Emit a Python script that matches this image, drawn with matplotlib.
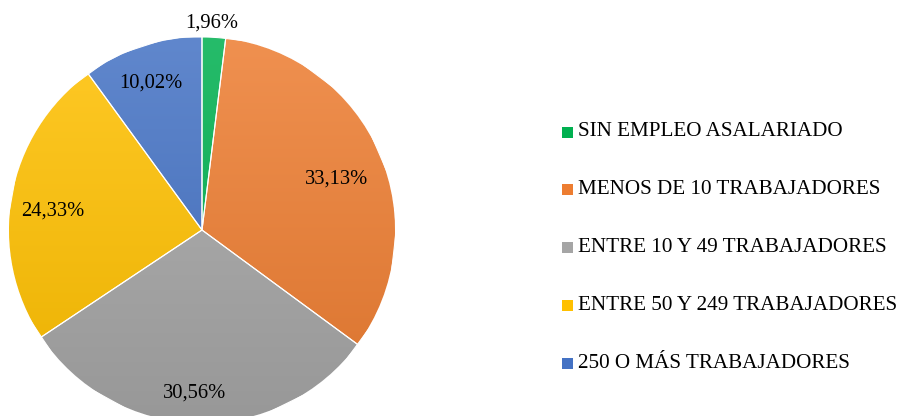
import numpy as np
import matplotlib
matplotlib.use("Agg")
import matplotlib.pyplot as plt
from matplotlib.patches import Rectangle
from matplotlib.colors import to_rgb

categorias = ["SIN EMPLEO ASALARIADO", "MENOS DE 10 TRABAJADORES",
              "ENTRE 10 Y 49 TRABAJADORES", "ENTRE 50 Y 249 TRABAJADORES",
              "250 O MÁS TRABAJADORES"]
porcentajes = [1.96, 33.13, 30.56, 24.33, 10.02]
colores = ["#00B050", "#ED7D31", "#A5A5A5", "#FFC000", "#4472C4"]
# colocación de las etiquetas: distancia al centro (radios) y desvío del ángulo medio
dist_etiquetas = [1.074, 0.748, 0.845, 0.778, 0.806]
desvio_ang = [0.8, -2.6, -1.2, 2.8, 1.1]

plt.rcParams["font.family"] = ["Liberation Serif", "DejaVu Serif"]

W, H = 901, 416
fig = plt.figure(figsize=(W / 100, H / 100), dpi=100)
cx, cy, r = 202, 186, 193
ax = fig.add_axes([(cx - r) / W, (cy - r) / H, 2 * r / W, 2 * r / H])

wedges, _ = ax.pie(porcentajes, colors=colores, startangle=90, counterclock=False,
                   radius=1, wedgeprops=dict(edgecolor="white", linewidth=0.8))
for w in wedges:
    w.set_clip_on(False)


def gradiente(color):
    base = np.array(to_rgb(color))
    claro = base + (1 - base) * 0.15
    oscuro = base * 0.92
    t = np.linspace(0, 1, 256)[:, None]
    img = claro[None, :] * (1 - t) + oscuro[None, :] * t
    return img[:, None, :]


for w, c in zip(wedges, colores):
    im = ax.imshow(gradiente(c), extent=(-1, 1, -1, 1), origin="upper",
                   aspect="auto", zorder=w.get_zorder() + 0.1, interpolation="bilinear")
    im.set_clip_path(w)
    im.set_clip_on(True)
    ax.add_patch(plt.Polygon(w.get_path().vertices, closed=True, fill=False,
                             edgecolor="white", linewidth=0.8,
                             transform=w.get_transform(),
                             zorder=w.get_zorder() + 0.2))

for w, p, d, da in zip(wedges, porcentajes, dist_etiquetas, desvio_ang):
    ang = np.deg2rad((w.theta1 + w.theta2) / 2 + da)
    ax.text(d * np.cos(ang), d * np.sin(ang), f"{p:.2f}%".replace(".", ","),
            ha="center", va="center", fontsize=14.8, color="black", zorder=10,
            clip_on=False)

ax.set_xlim(-1, 1)
ax.set_ylim(-1, 1)
ax.set_aspect("equal")
ax.axis("off")

# leyenda
y0, paso = 132, 57.8
for i, (cat, c) in enumerate(zip(categorias, colores)):
    y = y0 + i * paso
    fig.patches.append(Rectangle(((562) / W, (H - y - 5.5) / H), 11 / W, 11 / H,
                                 transform=fig.transFigure, facecolor=c,
                                 edgecolor="none"))
    fig.text(578 / W, (H - y) / H, cat, ha="left", va="center", fontsize=15.2,
             color="black")

fig.savefig("out.png", dpi=100, facecolor="white")
